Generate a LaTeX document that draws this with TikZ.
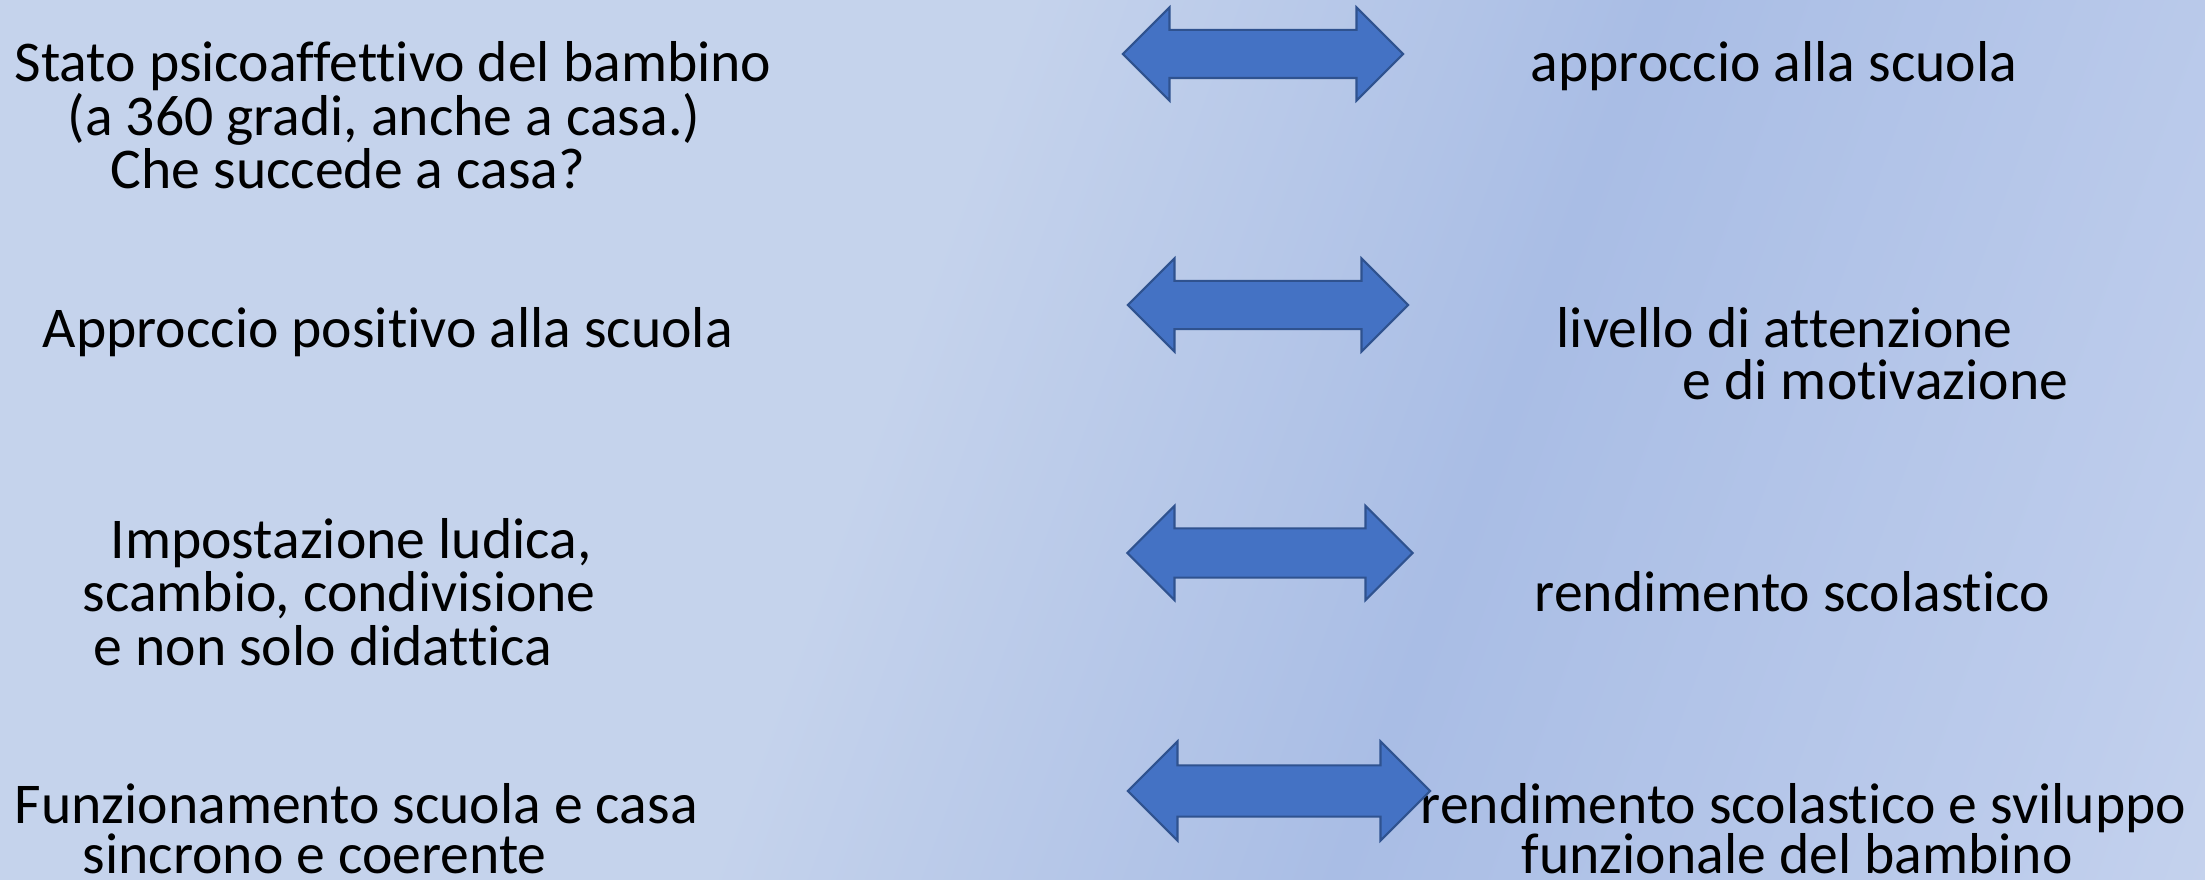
\documentclass[tikz,border=0pt]{standalone}
\usepackage{fontspec}
\setmainfont{Carlito}[Ligatures=NoCommon]
\usepackage{tikz}
\usetikzlibrary{shapes.arrows}

\definecolor{bgbase}{RGB}{197,211,236}
\definecolor{bgdark}{RGB}{169,189,229}
\definecolor{bgmid}{RGB}{190,205,236}
\definecolor{bglight}{RGB}{222,230,244}
\definecolor{arrowfill}{RGB}{68,114,196}
\definecolor{arrowedge}{RGB}{47,82,143}

\pgfdeclarehorizontalshading{bgshade}{100bp}{color(0bp)=(bgbase); color(44bp)=(bgbase); color(60bp)=(bgdark); color(78bp)=(bgmid); color(100bp)=(bglight)}

\begin{document}
\begin{tikzpicture}[x=0.01cm, y=-0.01cm,
  label/.style={anchor=base west, inner sep=0pt, font=\fontsize{16.4pt}{15pt}\selectfont},
  link/.style={double arrow, draw=arrowedge, fill=arrowfill, line width=0.6pt,
    inner xsep=0pt, inner ysep=0.23cm,
    double arrow tip angle=90, double arrow head extend=0.225cm}]

 \useasboundingbox (0,0) rectangle (2205,880);
 \shade[shading=bgshade, shading angle=-20] (0,0) rectangle (2205,880);

 % left column
 \node[label] (cause_1a) at (14,82)  {Stato psicoaffettivo del bambino};
 \node[label] (cause_1b) at (67,136) {(a 360 gradi, anche a casa.)};
 \node[label] (cause_1c) at (110,189) {Che succede a casa?};

 \node[label] (cause_2) at (42,348) {Approccio positivo alla scuola};

 \node[label] (cause_3a) at (110,559) {Impostazione ludica,};
 \node[label] (cause_3b) at (82,612)  {scambio, condivisione};
 \node[label] (cause_3c) at (93,666)  {e non solo didattica};

 \node[label] (cause_4a) at (14,824) {Funzionamento scuola e casa};
 \node[label] (cause_4b) at (82,874) {sincrono e coerente};

 % right column
 \node[label] (effect_1) at (1530,82) {approccio alla scuola};

 \node[label] (effect_2a) at (1556,348) {livello di attenzione};
 \node[label] (effect_2b) at (1682,400) {e di motivazione};

 \node[label] (effect_3) at (1534,612) {rendimento scolastico};

 \node[label] (effect_4a) at (1420,824) {rendimento scolastico e sviluppo};
 \node[label] (effect_4b) at (1521,874) {funzionale del bambino};

 % double arrows
 \node[link, minimum height=2.80cm] (arrow_1) at (1263,54) {};
 \node[link, minimum height=2.80cm] (arrow_2) at (1268,305) {};
 \node[link, minimum height=2.85cm, inner ysep=0.235cm] (arrow_3) at (1270,553) {};
 \node[link, minimum height=3.02cm, inner ysep=0.245cm, double arrow head extend=0.24cm] (arrow_4) at (1279,791) {};

\end{tikzpicture}
\end{document}
